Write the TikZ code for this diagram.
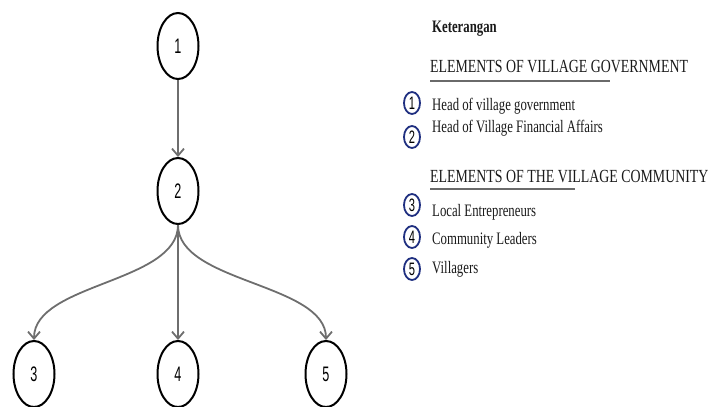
\documentclass[tikz,border=0pt]{standalone}
\usepackage{fontspec}
\setmainfont{Liberation Serif}
\newfontfamily\legfont[FakeStretch=0.73]{Liberation Serif}
\newfontfamily\headfont[FakeStretch=0.75]{Liberation Serif}
\newfontfamily\numfont[FakeStretch=0.6]{Liberation Sans}
\newfontfamily\smallnum[FakeStretch=0.62]{Liberation Sans}
\usetikzlibrary{shapes.geometric,arrows.meta}
\definecolor{arrowgray}{HTML}{6E6E6E}
\definecolor{navy}{HTML}{1F2F80}
\definecolor{txt}{HTML}{1A1A1A}
\definecolor{ulgray}{HTML}{6A6A6A}
\begin{document}
\begin{tikzpicture}[x=1pt,y=-1pt,
 elnode/.style={ellipse,draw=black,line width=2pt,minimum width=41pt,minimum height=66pt,inner sep=0pt,font=\numfont\fontsize{21}{21}\selectfont},
 conn/.style={draw=arrowgray,line width=1.8pt,-{Straight Barb[length=7pt,width=12pt]}},
 legnum/.style={ellipse,draw=navy,line width=1.8pt,minimum width=16pt,minimum height=22pt,inner sep=0pt,font=\smallnum\fontsize{18}{18}\selectfont},
 legtext/.style={anchor=base west,inner sep=0pt,text=txt,font=\legfont\fontsize{17.5}{17.5}\selectfont},
 leghead/.style={anchor=base west,inner sep=0pt,text=txt,font=\headfont\fontsize{18.5}{18.5}\selectfont},
 uline/.style={draw=ulgray,line width=2pt}
]
\useasboundingbox (0,0) rectangle (713,407);

% tree
\node[elnode] (n1) at (178,46) {1};
\node[elnode] (n2) at (178,191) {2};
\node[elnode] (n3) at (34,374) {3};
\node[elnode] (n4) at (178,374) {4};
\node[elnode] (n5) at (326,374) {5};

\draw[conn] (n1) -- (n2);
\draw[conn] (n2) -- (n4);
\draw[conn] (n2.south) .. controls +(0,58) and +(0,-57) .. (n3.north);
\draw[conn] (n2.south) .. controls +(0,58) and +(0,-57) .. (n5.north);

% legend
\node[legtext,font=\legfont\bfseries\fontsize{17.5}{17.5}\selectfont] (ket) at (432,32) {Keterangan};

\node[leghead] (h1) at (430,72) {ELEMENTS OF VILLAGE GOVERNMENT};
\coordinate (u1a) at (430,81);
\coordinate (u1b) at (610,81);
\draw[uline] (u1a) -- (u1b);

\node[legnum] (c1) at (412,103) {1};
\node[legtext] (t1) at (432,110) {Head of village government};
\node[legnum] (c2) at (412,137) {2};
\node[legtext] (t2) at (432,132) {Head of Village Financial Affairs};

\node[leghead] (h2) at (430,182) {ELEMENTS OF THE VILLAGE COMMUNITY};
\coordinate (u2a) at (430,189);
\coordinate (u2b) at (575,189);
\draw[uline] (u2a) -- (u2b);

\node[legnum] (c3) at (412,205) {3};
\node[legtext] (t3) at (432,216) {Local Entrepreneurs};
\node[legnum] (c4) at (412,237) {4};
\node[legtext] (t4) at (432,244) {Community Leaders};
\node[legnum] (c5) at (412,269) {5};
\node[legtext] (t5) at (432,273) {Villagers};
\end{tikzpicture}
\end{document}
